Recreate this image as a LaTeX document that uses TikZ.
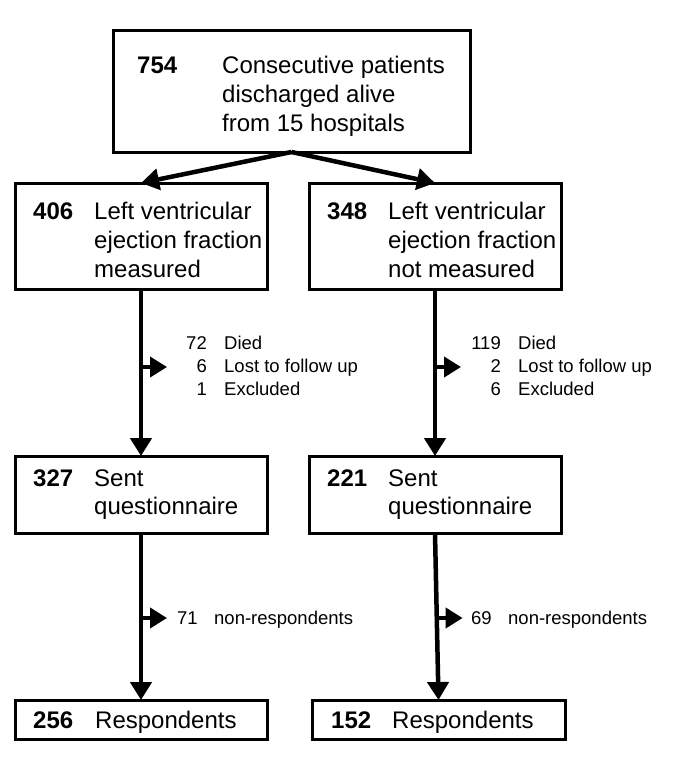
\documentclass[tikz,border=0pt]{standalone}
\usepackage{fontspec}
\setmainfont{Liberation Sans}
\usetikzlibrary{arrows.meta}
\tikzset{
  box/.style={draw,line width=3pt,inner sep=0pt,outer sep=0pt,minimum width=252pt},
  txt/.style={anchor=base west,inner sep=0pt,font=\fontsize{24}{29}\selectfont},
  num/.style={txt,font=\fontsize{24}{29}\selectfont\bfseries},
  small/.style={anchor=base west,inner sep=0pt,font=\fontsize{18.5}{23}\selectfont},
  flow/.style={line width=4.5pt,-{Triangle[length=18pt,width=21pt]}},
  side/.style={line width=4pt,-{Triangle[length=17pt,width=20pt]}}
}
\begin{document}
\begin{tikzpicture}[x=1pt,y=-1pt]
  \useasboundingbox (0,0) rectangle (685,761);
  % boxes
  \node[box,minimum width=357pt,minimum height=122pt] (top) at (291.5,91) {};
  \node[box,minimum height=106pt] (lvm) at (141,236) {};
  \node[box,minimum height=106pt] (lvn) at (435,236) {};
  \node[box,minimum height=77pt] (sentA) at (141,494.5) {};
  \node[box,minimum height=77pt] (sentB) at (435,494.5) {};
  \node[box,minimum height=39pt] (respA) at (141,719.5) {};
  \node[box,minimum width=253pt,minimum height=39pt] (respB) at (438.5,719.5) {};
  % box texts
  \node[num] (n754) at (137,73) {754};
  \foreach \t [count=\i from 0] in {Consecutive patients,discharged alive,from 15 hospitals}
    \node[txt] (top-\i) at (222,{73+29*\i}) {\t};
  \node[num] (n406) at (33,219) {406};
  \foreach \t [count=\i from 0] in {Left ventricular,ejection fraction,measured}
    \node[txt] (lvm-\i) at (94,{219+29*\i}) {\t};
  \node[num] (n348) at (327,219) {348};
  \foreach \t [count=\i from 0] in {Left ventricular,ejection fraction,not measured}
    \node[txt] (lvn-\i) at (388,{219+29*\i}) {\t};
  \node[num] (n327) at (33,486) {327};
  \node[txt] (sentA-0) at (94,486) {Sent};
  \node[txt] (sentA-1) at (94,514) {questionnaire};
  \node[num] (n221) at (327,486) {221};
  \node[txt] (sentB-0) at (388,486) {Sent};
  \node[txt] (sentB-1) at (388,514) {questionnaire};
  \node[num] (n256) at (33,728) {256};
  \node[txt] (respA-0) at (95,728) {Respondents};
  \node[num] (n152) at (331,728) {152};
  \node[txt] (respB-0) at (392,728) {Respondents};
  % losses
  \foreach \n/\t [count=\i from 0] in {72/Died,6/Lost to follow up,1/Excluded}{
    \node[small,anchor=base east] (lossA-n\i) at (207,{349+23*\i}) {\n};
    \node[small] (lossA-\i) at (224,{349+23*\i}) {\t};
  }
  \foreach \n/\t [count=\i from 0] in {119/Died,2/Lost to follow up,6/Excluded}{
    \node[small,anchor=base east] (lossB-n\i) at (501,{349+23*\i}) {\n};
    \node[small] (lossB-\i) at (518,{349+23*\i}) {\t};
  }
  \node[small] (nrA-n) at (177,624) {71};
  \node[small] (nrA) at (214,624) {non-respondents};
  \node[small] (nrB-n) at (471,624) {69};
  \node[small] (nrB) at (508,624) {non-respondents};
  % arrows
  \draw[flow] (top.south) -- (lvm.north);
  \draw[flow] (top.south) -- (lvn.north);
  \draw[flow] (lvm.south) -- (sentA.north);
  \draw[flow] (lvn.south) -- (sentB.north);
  \draw[flow] (sentA.south) -- (respA.north);
  \draw[flow] (sentB.south) -- (respB.north);
  \coordinate (sA1) at (141,367);
  \coordinate (sB1) at (435,367);
  \coordinate (sA2) at (141,618);
  \coordinate (sB2) at (436.6,618);
  \draw[side] (sA1) -- ++(26,0);
  \draw[side] (sB1) -- ++(26,0);
  \draw[side] (sA2) -- ++(26,0);
  \draw[side] (sB2) -- ++(26,0);
\end{tikzpicture}
\end{document}
